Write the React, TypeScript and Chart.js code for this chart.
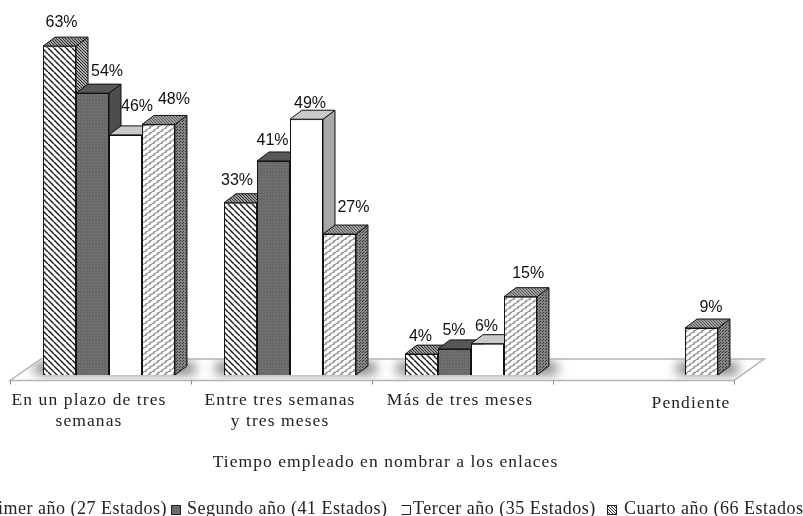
import React, { useEffect, useRef } from "react";
import { Chart, registerables } from "chart.js";

Chart.register(...registerables);

const categories = [
  ["En un plazo de tres", "semanas"],
  ["Entre tres semanas", "y tres meses"],
  ["Más de tres meses"],
  ["Pendiente"],
];
const primerAno = [63, 33, 4, null];
const segundoAno = [54, 41, 5, null];
const tercerAno = [46, 49, 6, null];
const cuartoAno = [48, 27, 15, 9];
const seriesNames = [
  "Primer año (27 Estados)",
  "Segundo año (41 Estados)",
  "Tercer año (35 Estados)",
  "Cuarto año (66 Estados)",
];
const axisTitle = "Tiempo empleado en nombrar a los enlaces";

const DX = 12;
const DY = -9;
const FLOOR_SHIFT = 8.5;
const SERIF = '"Liberation Serif", serif';
const SANS = '"Liberation Sans", sans-serif';

// nudges of the value labels from the middle of each bar's front top edge: [series][category]
const labelNudge: number[][][] = [
  [[2, -24], [-3.5, -22.5], [-1, -18], [0, 0]],
  [[14.5, -22], [-1, -20], [-0.5, -18], [0, 0]],
  [[11.5, -28], [3.5, -16], [-1, -17], [0, 0]],
  [[15.5, -25], [14, -26], [7.7, -22.7], [9.5, -20]],
];
const tickNudge = [[-20, 0], [-10, 0], [-11, 0], [39, 3]];

function tile(w: number, h: number, paint: (c: CanvasRenderingContext2D) => void) {
  const cv = document.createElement("canvas");
  cv.width = w;
  cv.height = h;
  const c = cv.getContext("2d")!;
  paint(c);
  return c.createPattern(cv, "repeat")!;
}

function diag(bg: string, fg: string, size: number, lw: number) {
  return tile(size, size, (c) => {
    c.fillStyle = bg;
    c.fillRect(0, 0, size, size);
    c.strokeStyle = fg;
    c.lineWidth = lw;
    c.beginPath();
    for (let o = -size; o <= size; o += size) {
      c.moveTo(o, 0);
      c.lineTo(o + size, size);
    }
    c.stroke();
  });
}

function dots(bg: string, fg: string) {
  return tile(3, 3, (c) => {
    c.fillStyle = bg;
    c.fillRect(0, 0, 3, 3);
    c.fillStyle = fg;
    c.fillRect(0, 0, 1, 1);
    c.fillRect(2, 1, 1, 1);
  });
}

function scallop() {
  return tile(8, 6, (c) => {
    c.fillStyle = "#989898";
    c.fillRect(0, 0, 8, 6);
    c.fillStyle = "#ffffff";
    for (const [x, y] of [[2, 1.5], [10, 1.5], [-6, 1.5], [6, 4.5], [-2, 4.5], [14, 4.5]]) {
      c.beginPath();
      c.ellipse(x, y, 3.5, 1.6, -0.35, 0, Math.PI * 2);
      c.fill();
    }
  });
}

export default function App() {
  const ref = useRef<HTMLCanvasElement>(null);
  useEffect(() => {
    document.body.style.margin = "0";
    const canvas = ref.current!;
    const fronts = [
      diag("#ffffff", "#222222", 6, 1.5),
      dots("#707070", "#5c5c5c"),
      "#ffffff",
      scallop(),
    ];
    const sides = [diag("#b0b0b0", "#222222", 3, 1), "#4d4d4d", "#a8a8a8", dots("#868686", "#333333")];
    const tops = [diag("#9a9a9a", "#333333", 3, 1), "#575757", "#c9c9c9", diag("#a0a0a0", "#555555", 3, 1)];
    const markers = [fronts[0], fronts[1], "#ffffff", diag("#ffffff", "#333333", 3, 1)];

    const drawFaces = (chart: any, s: number) => {
      const c: CanvasRenderingContext2D = chart.ctx;
      c.save();
      c.strokeStyle = "#111111";
      c.lineWidth = 1;
      c.lineJoin = "round";
      chart.getDatasetMeta(s).data.forEach((el: any, i: number) => {
        if (chart.data.datasets[s].data[i] == null) return;
        const l = el.x - el.width / 2;
        const r = el.x + el.width / 2;
        const t = el.y;
        const b = el.base;
        c.fillStyle = sides[s] as any;
        c.beginPath();
        c.moveTo(r, t);
        c.lineTo(r + DX, t + DY);
        c.lineTo(r + DX, b + DY);
        c.lineTo(r, b);
        c.closePath();
        c.fill();
        c.stroke();
        c.fillStyle = tops[s] as any;
        c.beginPath();
        c.moveTo(l, t);
        c.lineTo(l + DX, t + DY);
        c.lineTo(r + DX, t + DY);
        c.lineTo(r, t);
        c.closePath();
        c.fill();
        c.stroke();
      });
      c.restore();
    };

    const plugin = {
      id: "bars3d",
      beforeDraw(chart: any) {
        const c = chart.ctx;
        (c as any).letterSpacing = "1.1px";
        const items = chart.scales.x.getLabelItems();
        items.forEach((it: any, i: number) => {
          if (it.__moved) return;
          it.__moved = true;
          it.options.translation[0] += tickNudge[i][0];
          it.options.translation[1] += tickNudge[i][1];
        });
      },
      beforeDatasetsDraw(chart: any) {
        const c: CanvasRenderingContext2D = chart.ctx;
        const x = chart.scales.x;
        const base = chart.chartArea.bottom;
        const step = x.getPixelForValue(1) - x.getPixelForValue(0);
        const left = x.getPixelForValue(0) - step / 2 - FLOOR_SHIFT;
        const right = left + step * categories.length;
        const front = base + 5.5;
        const back = base - 16;
        c.save();
        const floor = new Path2D();
        floor.moveTo(left, front);
        floor.lineTo(left + 31, back);
        floor.lineTo(right + 30, back);
        floor.lineTo(right, front);
        floor.closePath();
        // soft shadows lying on the floor, behind each group of bars
        c.save();
        c.clip(floor);
        c.filter = "blur(6px)";
        c.fillStyle = "#707070";
        categories.forEach((_, i) => {
          const els = chart.data.datasets
            .map((ds: any, s: number) => (ds.data[i] == null ? null : chart.getDatasetMeta(s).data[i]))
            .filter(Boolean);
          if (!els.length) return;
          const xs = els.map((e: any) => e.x);
          const w = els[0].width;
          const l = Math.min(...xs) - w / 2;
          const r = Math.max(...xs) + w / 2;
          c.fillRect(l - 8, base - 12, r - l + 28, 11);
        });
        c.restore();
        c.strokeStyle = "#b4b4b4";
        c.lineWidth = 1.5;
        c.stroke(floor);
        c.strokeStyle = "#8c8c8c";
        c.lineWidth = 1;
        for (let i = 0; i <= categories.length; i++) {
          const t = Math.round(left + step * i) + 0.5;
          c.beginPath();
          c.moveTo(t, front);
          c.lineTo(t, front + 4);
          c.stroke();
        }
        c.restore();
        // left to right, so that each bar's front covers the side of its neighbour
        chart.data.datasets.forEach((_: any, s: number) => {
          drawFaces(chart, s);
          chart.getDatasetMeta(s).controller.draw();
        });
      },
      beforeDatasetDraw() {
        return false;
      },
      afterDraw(chart: any) {
        const c: any = chart.ctx;
        c.save();
        // value labels
        c.letterSpacing = "0px";
        c.font = `16px ${SANS}`;
        c.fillStyle = "#111111";
        c.textAlign = "center";
        c.textBaseline = "middle";
        chart.data.datasets.forEach((ds: any, s: number) => {
          const meta = chart.getDatasetMeta(s);
          ds.data.forEach((v: number | null, i: number) => {
            if (v == null) return;
            const el = meta.data[i];
            c.fillText(`${v}%`, el.x + labelNudge[s][i][0], el.y + labelNudge[s][i][1]);
          });
        });
        // axis title
        c.letterSpacing = "1.05px";
        c.font = `17.5px ${SERIF}`;
        c.fillStyle = "#222222";
        c.textBaseline = "alphabetic";
        c.fillText(axisTitle, 385.5, 467);
        // legend
        c.letterSpacing = "0.5px";
        c.font = `18px ${SERIF}`;
        c.textAlign = "left";
        const textX = [null, 187, 413, 624];
        const markerX = [null, 171, 401, 607];
        seriesNames.forEach((name, s) => {
          const mx = markerX[s];
          if (s === 0) {
            c.textAlign = "right";
            c.fillText(name, 167, 513.5);
            c.textAlign = "left";
            return;
          }
          c.fillText(name, textX[s], 513.5);
          c.fillStyle = markers[s];
          c.fillRect(mx, 505, 10, 10);
          c.strokeStyle = "#222222";
          c.lineWidth = 1;
          c.beginPath();
          if (s === 2) {
            c.moveTo(mx + 0.5, 505.5);
            c.lineTo(mx + 9.5, 505.5);
            c.lineTo(mx + 9.5, 514.5);
            c.lineTo(mx + 0.5, 514.5);
          } else {
            c.rect(mx + 0.5, 505.5, 9, 9);
          }
          c.stroke();
          c.fillStyle = "#222222";
        });
        c.restore();
      },
    };

    const data = [primerAno, segundoAno, tercerAno, cuartoAno];
    const chart = new Chart(canvas, {
      type: "bar",
      data: {
        labels: categories as any,
        datasets: data.map((values, s) => ({
          label: seriesNames[s],
          data: values,
          backgroundColor: fronts[s] as any,
          borderColor: "#111111",
          borderWidth: 1,
          categoryPercentage: 0.729,
          barPercentage: 1,
        })),
      },
      options: {
        responsive: false,
        animation: false,
        layout: { padding: { left: 18.5, right: 60.5, top: 9.6, bottom: 0 } },
        plugins: { legend: { display: false }, tooltip: { enabled: false }, title: { display: false } },
        scales: {
          x: {
            grid: { display: false },
            border: { display: false },
            afterFit(s: any) {
              s.height = 141;
              s.paddingLeft = 0;
              s.paddingRight = 0;
            },
            ticks: {
              autoSkip: false,
              maxRotation: 0,
              minRotation: 0,
              padding: 7,
              color: "#222222",
              font: { family: SERIF, size: 17.5, lineHeight: 1.2 },
            },
          },
          y: { display: false, min: 0, max: 70 },
        },
      },
      plugins: [plugin],
    } as any);
    return () => chart.destroy();
  }, []);
  return (
    <canvas
      ref={ref}
      width={803}
      height={516}
      style={{ display: "block", position: "absolute", left: 0, top: 0 }}
    />
  );
}
